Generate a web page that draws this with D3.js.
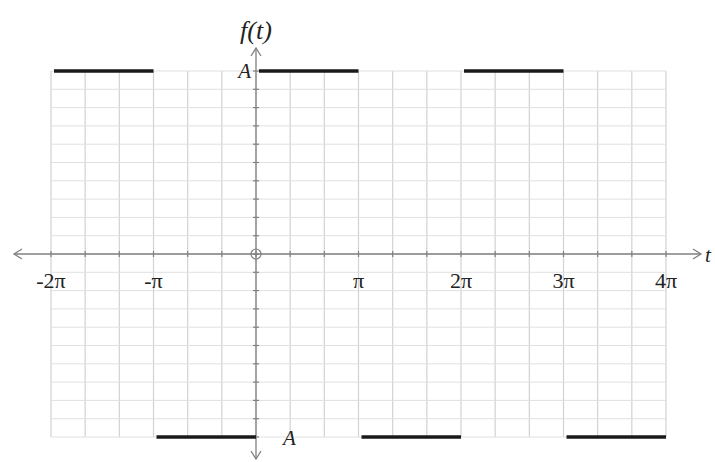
<!DOCTYPE html>
<html>
<head>
<meta charset="utf-8">
<script src="https://cdn.jsdelivr.net/npm/d3@7"></script>
<style>
  body { margin: 0; background: #fff; }
</style>
</head>
<body>
<div id="chart"></div>
<script>
/* Square wave data: segment start (in multiples of pi) and level (in units of A) */
var segStart = [-2, -1, 0, 1, 2, 3];
var segLevel = [1, -1, 1, -1, 1, -1];
var tickMult = [-2, -1, 1, 2, 3, 4];
var tickText = ["-2\u03c0", "-\u03c0", "\u03c0", "2\u03c0", "3\u03c0", "4\u03c0"];

var PI = Math.PI;
var width = 715, height = 462;
var serif = "'Liberation Serif', 'DejaVu Serif', serif";

var svg = d3.select("#chart").append("svg")
    .attr("width", width).attr("height", height);

/* scales: -2pi..4pi across, -A..A up */
var x = d3.scaleLinear().domain([-2 * PI, 4 * PI]).range([51, 666]);
var y = d3.scaleLinear().domain([-1, 1]).range([437, 71]);

/* grid - every pi/3 across, every A/10 up */
var gx = d3.range(-6, 13).map(function(k) { return k * PI / 3; });
var gy = d3.range(-10, 11).map(function(k) { return k / 10; });

var grid = svg.append("g").attr("class", "grid");
grid.selectAll("line.v").data(gx).enter().append("line")
    .attr("class", "v")
    .attr("x1", function(d) { return x(d); }).attr("x2", function(d) { return x(d); })
    .attr("y1", y(1)).attr("y2", y(-1))
    .attr("stroke", "#d2d2d2").attr("stroke-width", 1.2);
grid.selectAll("line.h").data(gy).enter().append("line")
    .attr("class", "h")
    .attr("y1", function(d) { return y(d); }).attr("y2", function(d) { return y(d); })
    .attr("x1", x(-2 * PI)).attr("x2", x(4 * PI))
    .attr("stroke", "#e0e0e0").attr("stroke-width", 1);

/* axes */
var axisCol = "#808080";
var xa0 = 14, xa1 = 701, ya0 = 48, ya1 = 459;
svg.append("line").attr("x1", xa0).attr("x2", xa1).attr("y1", y(0)).attr("y2", y(0))
    .attr("stroke", axisCol).attr("stroke-width", 1.3);
svg.append("line").attr("x1", x(0)).attr("x2", x(0)).attr("y1", ya0).attr("y2", ya1)
    .attr("stroke", axisCol).attr("stroke-width", 1.3);

/* arrow heads */
function arrow(px, py, dx, dy) {
  var s = 8, w = 5;
  var p = d3.path();
  p.moveTo(px - dx * s + dy * w, py - dy * s + dx * w);
  p.lineTo(px, py);
  p.lineTo(px - dx * s - dy * w, py - dy * s - dx * w);
  svg.append("path").attr("d", p.toString())
     .attr("fill", "none").attr("stroke", axisCol).attr("stroke-width", 1.3);
}
arrow(xa1, y(0), 1, 0);
arrow(xa0, y(0), -1, 0);
arrow(x(0), ya0, 0, -1);
arrow(x(0), ya1, 0, 1);

/* small tick marks on the axes */
svg.append("g").selectAll("line").data(gx).enter().append("line")
    .attr("x1", function(d) { return x(d); }).attr("x2", function(d) { return x(d); })
    .attr("y1", y(0) - 3).attr("y2", y(0) + 3)
    .attr("stroke", axisCol).attr("stroke-width", 1.2);
svg.append("g").selectAll("line").data(gy).enter().append("line")
    .attr("y1", function(d) { return y(d); }).attr("y2", function(d) { return y(d); })
    .attr("x1", x(0) - 3).attr("x2", x(0) + 3)
    .attr("stroke", axisCol).attr("stroke-width", 1.2);

/* origin circle */
svg.append("circle").attr("cx", x(0)).attr("cy", y(0)).attr("r", 5)
    .attr("fill", "none").attr("stroke", axisCol).attr("stroke-width", 1.2);

/* square wave segments */
svg.append("g").selectAll("line").data(segStart).enter().append("line")
    .attr("x1", function(d) { return x(d * PI) + 3; })
    .attr("x2", function(d) { return x((d + 1) * PI); })
    .attr("y1", function(d, i) { return y(segLevel[i]); })
    .attr("y2", function(d, i) { return y(segLevel[i]); })
    .attr("stroke", "#1a1a1a").attr("stroke-width", 3.4);

/* tick labels */
svg.append("g").selectAll("text").data(tickMult).enter().append("text")
    .attr("x", function(d) { return x(d * PI); })
    .attr("y", 288)
    .attr("text-anchor", "middle")
    .style("font-family", serif).style("font-size", "22px").style("fill", "#222")
    .text(function(d, i) { return tickText[i]; });

/* axis labels */
function label(tx, ty, size, anchor, str) {
  svg.append("text").attr("x", tx).attr("y", ty)
     .attr("text-anchor", anchor)
     .style("font-family", serif).style("font-size", size).style("font-style", "italic")
     .style("fill", "#222")
     .text(str);
}
label(x(0) - 5, y(1) + 7, "21px", "end", "A");
label(x(0) + 27, y(-1) + 8, "21px", "start", "A");
label(x(0), 39, "26px", "middle", "f(t)");
label(705, y(0) + 8, "21px", "start", "t");
</script>
</body>
</html>
